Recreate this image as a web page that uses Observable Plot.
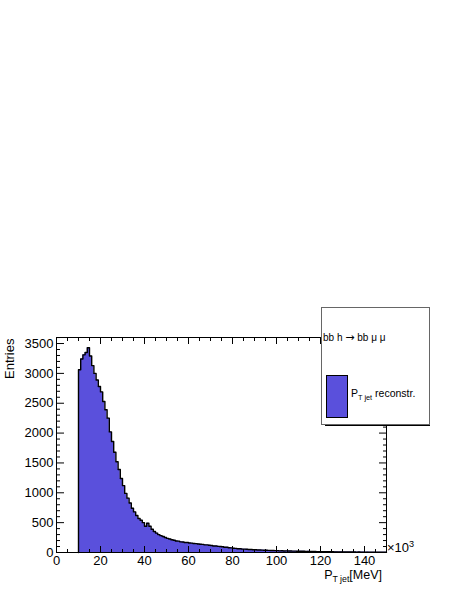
<!DOCTYPE html>
<html><head><meta charset="utf-8">
<script src="https://cdn.jsdelivr.net/npm/d3@7"></script>
<script src="https://cdn.jsdelivr.net/npm/@observablehq/plot@0.6"></script>
<style>
body{margin:0;background:#fff;}
#wrap{position:relative;width:463px;height:599px;font-family:"Liberation Sans",Arial,sans-serif;color:#000;}
#wrap svg{position:absolute;left:0;top:0;}
.abs{position:absolute;white-space:nowrap;line-height:1;}
sub{font-size:0.7em;vertical-align:-0.35em;}
sup{font-size:0.7em;vertical-align:0.5em;}
.arr{font-family:"DejaVu Sans",sans-serif;font-size:11px;}
</style></head><body><div id="wrap"></div>
<script>
// bin lower edges (width 1, x10^3 MeV) and entries
const binStart = [10,11,12,13,14,15,16,17,18,19,20,21,22,23,24,25,26,27,28,29,30,31,32,33,34,35,36,37,38,39,40,41,42,43,44,45,46,47,48,49,50,51,52,53,54,55,56,57,58,59,60,61,62,63,64,65,66,67,68,69,70,71,72,73,74,75,76,77,78,79,80,81,82,83,84,85,86,87,88,89,90,91,92,93,94,95,96,97,98,99,100,101,102,103,104,105,106,107,108,109,110,111,112,113,114,115,116,117,118,119,120,121,122,123,124,125,126,127,128,129,130,131,132,133,134,135,136,137,138,139,140,141,142,143,144,145,146,147,148,149];
const entries = [3060,3240,3310,3350,3430,3290,3130,3000,2890,2780,
  2690,2530,2390,2250,2020,1860,1680,1520,1390,1240,
  1120,990,910,830,740,680,620,570,540,500,
  440,490,440,390,352,325,300,282,268,252,
  236,226,214,206,193,190,178,176,168,167,
  160,157,150,149,143,139,136,128,127,121,
  118,110,109,103,101,96,89,87,79,77,
  70,69,63,63,57,56,54,49,49,46,
  45,42,41,40,37,38,35,34,33,31,
  31,28,29,26,27,25,25,23,23,21,
  22,20,21,18,19,18,16,17,15,15,
  14,15,13,13,12,12,11,11,10,11,
  9,10,9,9,8,8,7,8,7,7,
  6,7,6,5,6,5,5,4,5,4];
const xMajor = [0,20,40,60,80,100,120,140];
const xMinor = [5,10,15,25,30,35,45,50,55,65,70,75,85,90,95,105,110,115,125,130,135,145,150];
const yMajor = [0,500,1000,1500,2000,2500,3000,3500];
const yMinor = [100,200,300,400,600,700,800,900,1100,1200,1300,1400,1600,1700,1800,1900,2100,2200,2300,2400,2600,2700,2800,2900,3100,3200,3300,3400,3600];
const xDomain = [0,150];
const yDomain = [0,3601];
const histColor = "#5a50dc";

const binWidth = 1;
const steps = [{x:binStart[0], y:0}, ...binStart.map((b,i)=>({x:b, y:entries[i]})), {x:binStart[binStart.length-1]+binWidth, y:entries[entries.length-1]}];

const fmt = d => String(d);
const chart = Plot.plot({
  width:463, height:599,
  marginLeft:56, marginRight:77, marginTop:337, marginBottom:47,
  x:{domain:xDomain}, y:{domain:yDomain},
  style:{fontFamily:'"Liberation Sans",Arial,sans-serif', fontSize:"12px", color:"#000", background:"transparent"},
  marks:[
    Plot.areaY(steps,{x:"x", y:"y", curve:"step-after", fill:histColor}),
    Plot.line(steps,{x:"x", y:"y", curve:"step-after", stroke:"#000", strokeWidth:1.4}),
    Plot.frame({stroke:"#000", strokeWidth:1}),
    Plot.axisX({ticks:xMinor, tickSize:-3, text:null, label:null, anchor:"bottom", strokeWidth:1}),
    Plot.axisX({ticks:xMajor, tickSize:-6, text:null, label:null, anchor:"bottom", strokeWidth:1}),
    Plot.axisX({ticks:xMinor, tickSize:-3, text:null, label:null, anchor:"top", strokeWidth:1}),
    Plot.axisX({ticks:xMajor, tickSize:-6, text:null, label:null, anchor:"top", strokeWidth:1}),
    Plot.axisX({ticks:xMajor, tickSize:0, tickPadding:3, tickFormat:fmt, label:null, anchor:"bottom", fontSize:13}),
    Plot.axisY({ticks:yMinor, tickSize:-4, text:null, label:null, anchor:"left", strokeWidth:1}),
    Plot.axisY({ticks:yMajor, tickSize:-8, text:null, label:null, anchor:"left", strokeWidth:1}),
    Plot.axisY({ticks:yMinor, tickSize:-4, text:null, label:null, anchor:"right", strokeWidth:1}),
    Plot.axisY({ticks:yMajor, tickSize:-8, text:null, label:null, anchor:"right", strokeWidth:1}),
    Plot.axisY({ticks:yMajor, tickSize:0, tickPadding:3, tickFormat:fmt, label:null, anchor:"left", fontSize:13})
  ]
});
const wrap = document.getElementById("wrap");
wrap.appendChild(chart);

function add(html, style){
  const d = document.createElement("div");
  d.className = "abs";
  d.innerHTML = html;
  d.setAttribute("style", style);
  wrap.appendChild(d);
  return d;
}
// axis titles
add("Entries", "left:3px;top:337px;font-size:13px;transform-origin:0 0;transform:rotate(-90deg) translate(-42px,0);");
add("P<sub>T jet</sub>[MeV]", "right:81px;top:569px;font-size:12.5px;");
add("&times;10<sup>3</sup>", "left:387px;top:540px;font-size:13px;");
// legend
add("", "left:325px;top:423px;width:105px;height:3px;background:#000;");
add("", "left:321px;top:307px;width:107px;height:116px;border:1px solid #666;background:#fff;");
add("bb h <span class='arr'>&rarr;</span> bb &mu; &mu;", "left:323px;top:332px;font-size:10px;");
add("", "left:326px;top:375px;width:20px;height:41px;border:1px solid #000;background:"+histColor+";");
add("P<sub>T jet</sub> reconstr.", "left:351px;top:388px;font-size:10.5px;");
</script></body></html>
